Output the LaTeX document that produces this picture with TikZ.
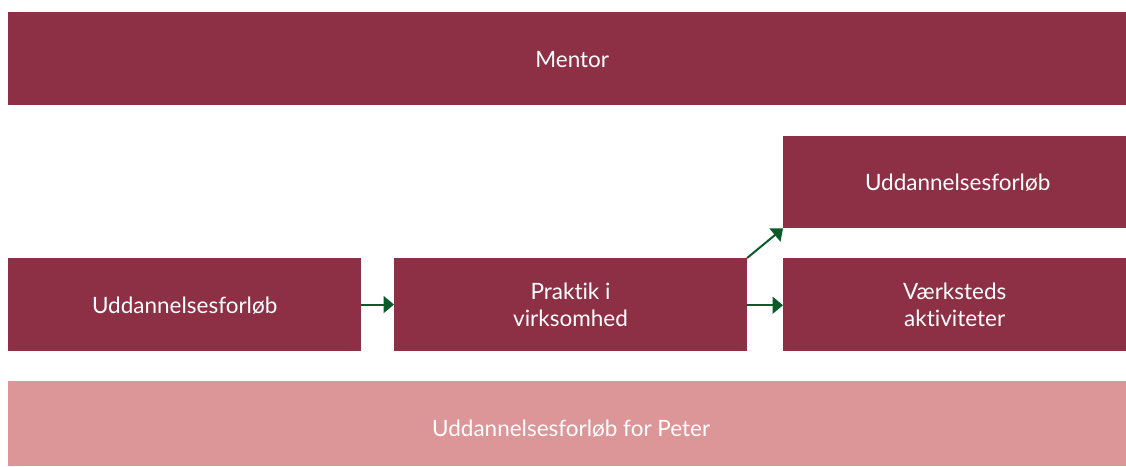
\documentclass[tikz,border=0pt]{standalone}
\usepackage{fontspec}
\setmainfont{Lato}[Ligatures={NoCommon,NoRare},Contextuals=NoAlternate]
\usetikzlibrary{arrows.meta}
\definecolor{maroon}{HTML}{8E3045}
\definecolor{pinkbar}{HTML}{DC9698}
\definecolor{arrowgreen}{HTML}{0B5A2A}
\begin{document}
\begin{tikzpicture}[x=1pt,y=-1pt,
  txt/.style={text=white,align=center,inner sep=0pt,font=\fontsize{22.5}{27}\selectfont},
  box/.style={fill=maroon,draw=none,anchor=north west,inner sep=0pt,txt},
  conn/.style={draw=arrowgreen,line width=2pt,-{Triangle[length=10.5pt,width=17pt]}}]
\useasboundingbox (0,0) rectangle (1126,466);
\node[box,minimum width=1118pt,minimum height=92.5pt] (mentor) at (8,12) {};
\node[txt] (mentortxt) at ([xshift=5pt,yshift=-1pt]mentor.center) {Mentor};
\node[box,minimum width=343pt,minimum height=92pt] (top) at (783,136) {\hspace*{6pt}Uddannelsesforløb};
\node[box,minimum width=353pt,minimum height=92.7pt] (left) at (8,258) {};
\node[txt] (lefttxt) at ([yshift=-1pt]left.center) {Uddannelsesforløb};
\node[box,minimum width=352.7pt,minimum height=92.7pt] (mid) at (394,258) {Praktik i\\virksomhed};
\node[box,minimum width=343pt,minimum height=92.7pt] (right) at (783,258) {Værksteds\\aktiviteter};
\node[box,fill=pinkbar,minimum width=1118pt,minimum height=85pt] (bottom) at (8,381) {};
\node[txt] (bottomtxt) at ([xshift=4pt,yshift=-5pt]bottom.center) {Uddannelsesforløb for Peter};
\draw[conn] (left.east) -- (mid.west);
\draw[conn] ([yshift=-0.7pt]mid.east) -- ([yshift=-0.7pt]right.west);
\draw[conn] (mid.north east) -- (top.south west);
\end{tikzpicture}
\end{document}
